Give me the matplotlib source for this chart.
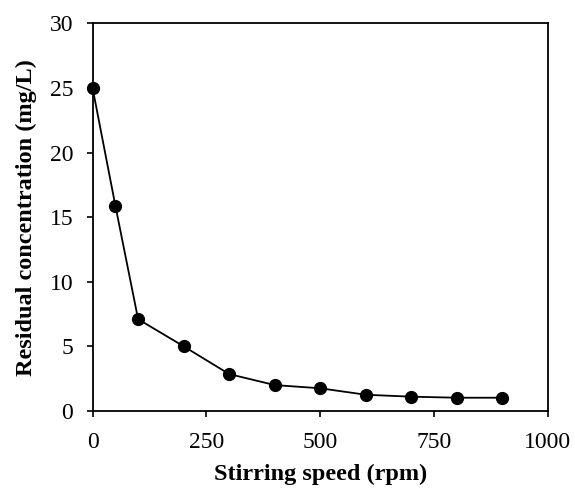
import matplotlib.pyplot as plt

speed = [0, 50, 100, 200, 300, 400, 500, 600, 700, 800, 900]
residual = [25.0, 15.9, 7.1, 5.0, 2.85, 2.0, 1.75, 1.25, 1.1, 1.02, 1.02]
xticks = [0, 250, 500, 750, 1000]
yticks = [0, 5, 10, 15, 20, 25, 30]

plt.rcParams['font.family'] = ['Liberation Serif', 'DejaVu Serif']

fig = plt.figure(figsize=(5.75, 4.88), dpi=100)
ax = fig.add_axes([0.161, 0.158, 0.792, 0.794])

ax.plot(speed, residual, color='black', lw=1.3, marker='o', ms=8.5, clip_on=False, zorder=3)

ax.set_xlim(0, 1000)
ax.set_ylim(0, 30)
ax.set_xticks(xticks)
ax.set_yticks(yticks)
ax.tick_params(direction='out', length=4, width=1.2, labelsize=17)
ax.tick_params(axis='x', pad=11)
ax.tick_params(axis='y', pad=10)
for s in ax.spines.values():
    s.set_linewidth(1.3)

ax.set_xlabel("Stirring speed (rpm)", fontsize=17.5, fontweight='bold', labelpad=8)
ax.set_ylabel("Residual concentration (mg/L)", fontsize=17.5, fontweight='bold', labelpad=9)

fig.savefig("out.png", dpi=100)
